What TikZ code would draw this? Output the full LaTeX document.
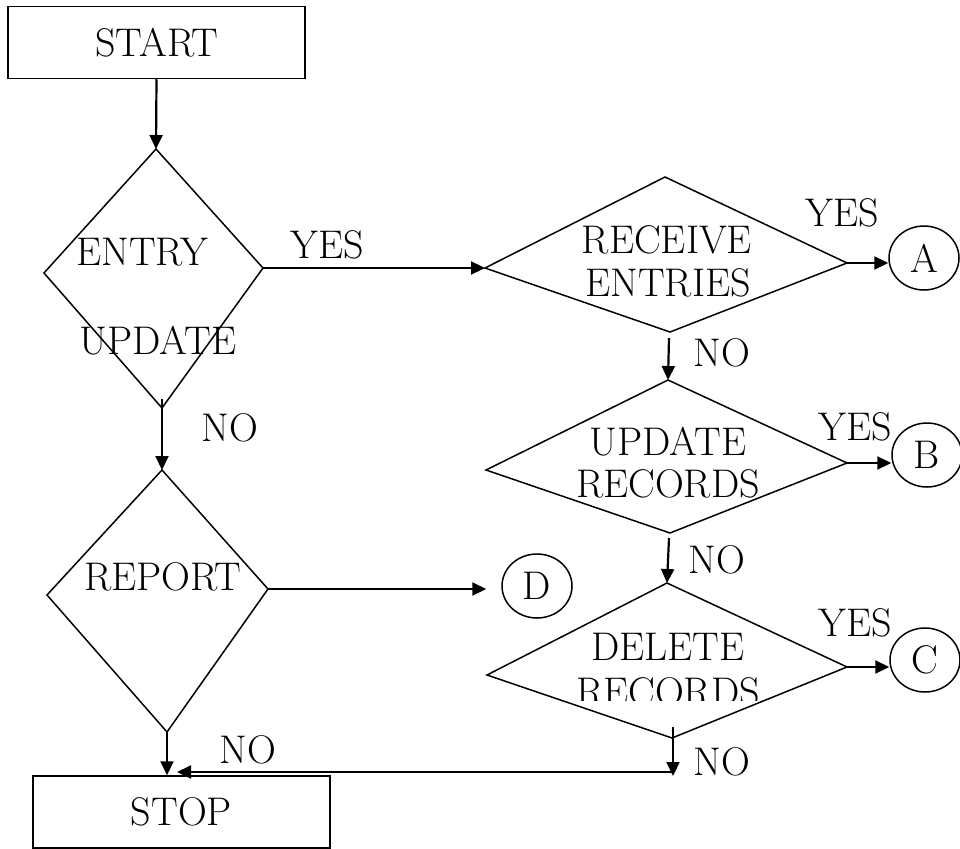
\documentclass[tikz,border=0pt]{standalone}
\usetikzlibrary{arrows.meta,shapes.geometric}
\begin{document}
\begin{tikzpicture}[x=1pt,y=-1pt,
  shp/.style={line width=1.5pt,line join=miter},
  conn/.style={line width=2.2pt,-{Triangle[length=14pt,width=13pt]}},
  txt/.style={font=\fontsize{40}{44}\selectfont,inner sep=0pt},
  boxn/.style={draw,line width=1.5pt,minimum width=297pt,minimum height=72pt,inner sep=0pt,font=\fontsize{40}{44}\selectfont},
  conn2/.style={draw,ellipse,line width=1.5pt,minimum width=70pt,minimum height=64pt,inner sep=0pt,font=\fontsize{40}{44}\selectfont}]
\useasboundingbox (0,0) rectangle (960,848);

% boxes
\node[boxn] (start) at (156.5,42.5) {START};
\node[boxn] (stop) at (181.5,812) {STOP};

% diamond corners
\coordinate (eT) at (156,149); \coordinate (eL) at (44,273);
\coordinate (eR) at (263,268); \coordinate (eB) at (162,408);
\coordinate (rT) at (665,177); \coordinate (rL) at (485,268);
\coordinate (rR) at (847,263); \coordinate (rB) at (670,332);
\coordinate (uT) at (668,380); \coordinate (uL) at (486,470);
\coordinate (uR) at (847,463); \coordinate (uB) at (670,533);
\coordinate (dT) at (667,583); \coordinate (dL) at (487,675);
\coordinate (dR) at (847,667); \coordinate (dB) at (672,738);
\coordinate (pT) at (162,470); \coordinate (pL) at (47,595);
\coordinate (pR) at (268,589); \coordinate (pB) at (167,732);

\draw[shp] (eT) -- (eR) -- (eB) -- (eL) -- cycle;
\draw[shp] (rT) -- (rR) -- (rB) -- (rL) -- cycle;
\draw[shp] (uT) -- (uR) -- (uB) -- (uL) -- cycle;
\draw[shp] (dT) -- (dR) -- (dB) -- (dL) -- cycle;
\draw[shp] (pT) -- (pR) -- (pB) -- (pL) -- cycle;

% diamond texts
\node[txt] (tEntry) at (142,252) {ENTRY};
\node[txt] (tUpd) at (158,341) {UPDATE};
\node[txt] (tRec1) at (667,240) {RECEIVE};
\node[txt] (tRec2) at (668,283) {ENTRIES};
\node[txt] (tUr1) at (668,442) {UPDATE};
\node[txt] (tUr2) at (668,484) {RECORDS};
\node[txt] (tDr1) at (668,647) {DELETE};
\begin{scope}
  \clip (400,600) rectangle (900,700);
  \node[txt] (tDr2) at (668,692) {RECORDS};
\end{scope}
\node[txt] (tRep) at (163,577) {REPORT};

% connector circles
\node[conn2] (A) at (924,258) {A};
\node[conn2] (B) at (927,455) {B};
\node[conn2] (C) at (925,660) {C};
\node[conn2] (D) at (537,586) {D};

% helper coordinates
\coordinate (eNo) at (162,399);
\coordinate (rNo) at (669,338);
\coordinate (uNo) at (669,538);
\coordinate (dNo) at (673,727);
\coordinate (corner) at (673,776);
\coordinate (hStart) at (673,772);
\coordinate (stopIn) at (177,772);

% connectors
\draw[conn] (start.south) -- (eT);
\draw[conn] (eR) -- (rL);
\draw[conn] (eNo) -- (pT);
\draw[conn] (rR) -- (rR -| A.west);
\draw[conn] (rNo) -- (uT);
\draw[conn] (uR) -- (uR -| B.west);
\draw[conn] (uNo) -- (dT);
\draw[conn] (dR) -- (dR -| C.west);
\draw[conn,shorten >=15pt] (pR) -- (pR -| D.west);
\draw[conn] (dNo) -- (corner);
\draw[conn] (hStart) -- (stopIn);
\draw[conn] (pB) -- (pB |- stop.north);

% labels
\node[txt] (l1) at (327,245) {YES};
\node[txt] (l2) at (230,428) {NO};
\node[txt] (l3) at (842,213) {YES};
\node[txt] (l4) at (722,353) {NO};
\node[txt] (l5) at (855,427) {YES};
\node[txt] (l6) at (717,560) {NO};
\node[txt] (l7) at (855,623) {YES};
\node[txt] (l8) at (722,762) {NO};
\node[txt] (l9) at (248,750) {NO};
\end{tikzpicture}
\end{document}
